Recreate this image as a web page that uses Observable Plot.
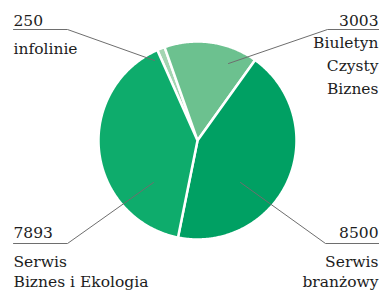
<!DOCTYPE html>
<html><head><meta charset="utf-8">
<script src="https://cdn.jsdelivr.net/npm/d3@7"></script>
<script src="https://cdn.jsdelivr.net/npm/@observablehq/plot@0.6"></script>
<style>body{margin:0;background:#fff}</style>
</head><body><div id="chart"></div>
<script>
// ---- data ----
const categories = ["infolinie", "Biuletyn Czysty Biznes", "Serwis branżowy", "Serwis Biznes i Ekologia"];
const values = [250, 3003, 8500, 7893];
const valueLabels = ["250", "3003", "8500", "7893"];
const nameLabels = ["infolinie", "Biuletyn\nCzysty\nBiznes", "Serwis\nbranżowy", "Serwis\nBiznes i Ekologia"];
const colors = ["#a4d5b2", "#6cc18f", "#00a063", "#0eac6c"];

// ---- layout (pixels) ----
const W = 379, H = 293;
const cx = 197, cy = 140, R = 99;
const startDeg = -24;
const fs = 15.5;
const layout = [
  {side: "left",  row: "top",    edge: 13,  knee: 67,  lineY: 29,  tip: [154, 60], valY: 14,  nameY: 37},
  {side: "right", row: "top",    edge: 378, knee: 327, lineY: 29,  tip: [228, 63], valY: 14,  nameY: 31},
  {side: "right", row: "bottom", edge: 378, knee: 325, lineY: 243, tip: [240, 182], valY: 226, nameY: 252},
  {side: "left",  row: "bottom", edge: 13,  knee: 67,  lineY: 243, tip: [153, 182], valY: 226, nameY: 252}
];

const arcs = d3.pie().sort(null).value(d => d)
  .startAngle(startDeg * Math.PI / 180)
  .endAngle(startDeg * Math.PI / 180 + 2 * Math.PI)(values);

const slicePts = [];
arcs.forEach((a, i) => {
  const name = categories[i];
  slicePts.push({name, x: cx, y: cy});
  const n = Math.max(4, Math.ceil((a.endAngle - a.startAngle) / 0.01));
  for (let k = 0; k <= n; k++) {
    const t = a.startAngle + (a.endAngle - a.startAngle) * k / n;
    slicePts.push({name, x: cx + R * Math.sin(t), y: cy - R * Math.cos(t)});
  }
  slicePts.push({name, x: cx, y: cy});
});

const leaderPts = [];
categories.forEach((name, i) => {
  const L = layout[i];
  leaderPts.push({name, x: L.side === "left" ? L.edge : W, y: L.lineY});
  leaderPts.push({name, x: L.knee, y: L.lineY});
  leaderPts.push({name, x: L.tip[0], y: L.tip[1]});
});

const rows = categories.map((name, i) => ({name, value: valueLabels[i], label: nameLabels[i], ...layout[i]}));
const font = "DejaVu Serif";
const txt = (data, opts) => Plot.text(data, {fontFamily: font, fontSize: fs, fill: "#1c1c1c", lineAnchor: "top", ...opts});

const chart = Plot.plot({
  width: W, height: H, margin: 0,
  x: {domain: [0, W], range: [0, W], axis: null},
  y: {domain: [0, H], range: [0, H], axis: null},
  color: {domain: categories, range: colors},
  style: {background: "#fff"},
  marks: [
    Plot.line(slicePts, {x: "x", y: "y", z: "name", fill: "name", stroke: "white", strokeWidth: 2.5, strokeLinejoin: "round"}),
    Plot.line(leaderPts, {x: "x", y: "y", z: "name", stroke: "#6e6e6e", strokeWidth: 1}),
    txt(rows.filter(d => d.side === "left"), {x: "edge", y: "valY", text: "value", textAnchor: "start"}),
    txt(rows.filter(d => d.side === "right"), {x: "edge", y: "valY", text: "value", textAnchor: "end"}),
    txt(rows.filter(d => d.side === "left" && d.row === "top"), {x: "edge", y: "nameY", text: "label", textAnchor: "start", lineHeight: 1.48}),
    txt(rows.filter(d => d.side === "right" && d.row === "top"), {x: "edge", y: "nameY", text: "label", textAnchor: "end", lineHeight: 1.48}),
    txt(rows.filter(d => d.side === "left" && d.row === "bottom"), {x: "edge", y: "nameY", text: "label", textAnchor: "start", lineHeight: 1.32}),
    txt(rows.filter(d => d.side === "right" && d.row === "bottom"), {x: "edge", y: "nameY", text: "label", textAnchor: "end", lineHeight: 1.32})
  ]
});
document.getElementById("chart").append(chart);
</script>
</body></html>
